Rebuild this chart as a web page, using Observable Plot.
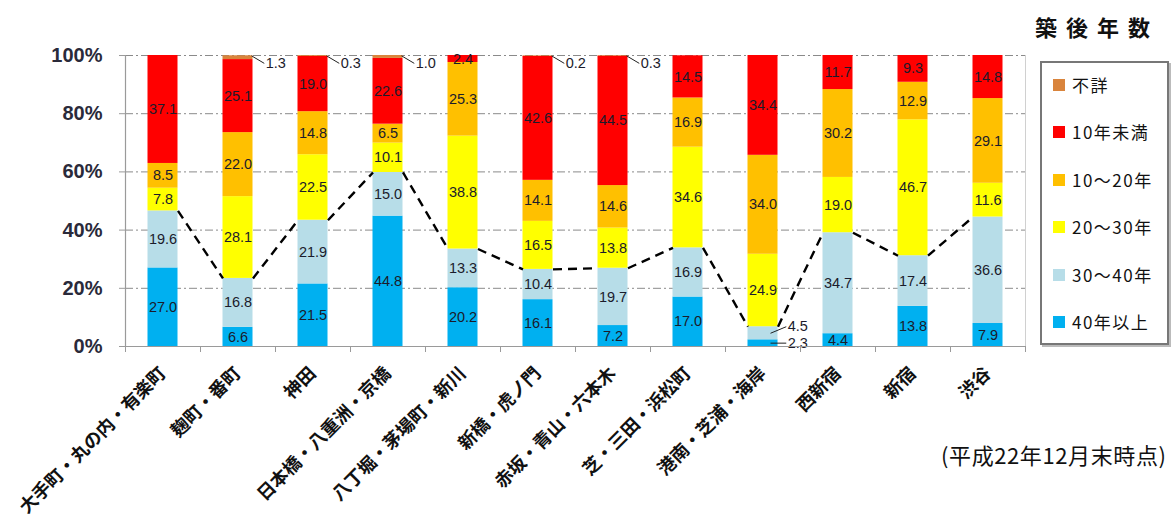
<!DOCTYPE html>
<html><head><meta charset="utf-8">
<script src="https://cdn.jsdelivr.net/npm/d3@7"></script>
<script src="https://cdn.jsdelivr.net/npm/@observablehq/plot@0.6"></script>
<style>
body{margin:0;background:#fff;font-family:"Noto Sans CJK JP",sans-serif;}
#wrap{position:relative;width:1173px;height:526px;overflow:hidden;}
#chart{position:absolute;left:0;top:0;}
#title{position:absolute;left:1035px;top:10px;font-size:22px;font-weight:bold;letter-spacing:9px;color:#111;}
#legend{position:absolute;left:1040px;top:61px;width:125px;height:280px;border:2px solid #777;box-shadow:2px 2px 0 #bbb;background:#fff;}
.item{position:absolute;left:11px;display:flex;align-items:center;font-size:17px;letter-spacing:1.5px;color:#111;line-height:20px;}
.sw{width:12px;height:12px;margin-right:7px;flex:none;}
#caption{position:absolute;left:941px;top:438px;font-size:22px;letter-spacing:0.6px;color:#111;}
</style>
</head><body>
<div id="wrap">
<div id="chart"></div>
<div id="title">築後年数</div>
<div id="legend"></div>
<div id="caption">(平成22年12月末時点)</div>
</div>
<script>
const names = ["大手町・丸の内・有楽町","麹町・番町","神田","日本橋・八重洲・京橋","八丁堀・茅場町・新川","新橋・虎ノ門","赤坂・青山・六本木","芝・三田・浜松町","港南・芝浦・海岸","西新宿","新宿","渋谷"];
const over40  = [27.0, 6.6,21.5,44.8,20.2,16.1, 7.2,17.0, 2.3, 4.4,13.8, 7.9];
const y30to40 = [19.6,16.8,21.9,15.0,13.3,10.4,19.7,16.9, 4.5,34.7,17.4,36.6];
const y20to30 = [ 7.8,28.1,22.5,10.1,38.8,16.5,13.8,34.6,24.9,19.0,46.7,11.6];
const y10to20 = [ 8.5,22.0,14.8, 6.5,25.3,14.1,14.6,16.9,34.0,30.2,12.9,29.1];
const under10 = [37.1,25.1,19.0,22.6, 2.4,42.6,44.5,14.5,34.4,11.7, 9.3,14.8];
const unknown = [ 0.0, 1.3, 0.3, 1.0, 0.0, 0.2, 0.3, 0.0, 0.0, 0.0, 0.0, 0.0];
const legendOrder = ["不詳","10年未満","10～20年","20～30年","30～40年","40年以上"];
const colors = ["#D9843C","#FF0000","#FFC000","#FFFF00","#B7DDE8","#00B0F0"];
const yTicks = [0,20,40,60,80,100];

const values = {"40年以上":over40,"30～40年":y30to40,"20～30年":y20to30,"10～20年":y10to20,"10年未満":under10,"不詳":unknown};
const stackOrder = legendOrder.slice().reverse();
const W = 0.4;
const rows = [];
names.forEach((name,i)=>{
  let acc = 0;
  stackOrder.forEach((s,k)=>{ const v = values[s][i]; rows.push({i,k,name,s,v,y1:acc,y2:acc+v,mid:acc+v/2}); acc += v; });
});
// a small segment is labelled outside when its neighbouring segment is also small (crowded)
function crowded(r){
  if (r.s==="不詳") return true;
  if (r.v>=5) return false;
  const nb = rows.filter(o=>o.i===r.i && Math.abs(o.k-r.k)===1 && o.s!=="不詳" && o.v>0);
  return nb.some(o=>o.v<5);
}
const inside = rows.filter(r => r.v>0 && !crowded(r));
const outside = rows.filter(r => r.v>0 && crowded(r)).map(r => {
  if (r.s==="不詳") return {...r, ax:r.i+W/2-0.02, ay:99.9, lx:r.i+W/2+0.17, ly:97.3};
  return {...r, ax:r.i+0.1, ay:r.mid, lx:r.i+W/2+0.13, ly:(r.s==="30～40年"? r.y2 : r.mid)};
});
const cum = names.map((n,i)=> over40[i]+y30to40[i]);
const segs = d3.range(names.length-1).map(i=>({x1:i+W/2, x2:i+1-W/2, y1:cum[i], y2:cum[i+1]}));

const plot = Plot.plot({
  width:1173, height:526,
  marginLeft:125, marginRight:148, marginTop:55, marginBottom:180,
  style:{background:"transparent", fontFamily:"Liberation Sans, Arial, sans-serif"},
  x:{domain:[-0.5, names.length-0.5], axis:null},
  y:{domain:[0,100], axis:null},
  color:{domain:legendOrder, range:colors},
  marks:[
    Plot.ruleY(yTicks.filter(d=>d>0), {stroke:"#8a8a8a", strokeWidth:1, strokeDasharray:"8,3,2,3"}),
    Plot.ruleX([names.length-0.5], {stroke:"#d0d0d0"}),
    Plot.rect(rows.filter(r=>r.v>0), {x1:r=>r.i-W/2, x2:r=>r.i+W/2, y1:"y1", y2:r=>Math.min(100,r.y2), fill:"s"}),
    Plot.link(segs, {x1:"x1", x2:"x2", y1:"y1", y2:"y2", stroke:"#000", strokeWidth:2.4, strokeDasharray:"9,6"}),
    Plot.text(inside, {x:"i", y:"mid", text:r=>r.v.toFixed(1), fill:"#1b1b2b", fontSize:14.5}),
    Plot.link(outside, {x1:"ax", y1:"ay", x2:r=>r.lx-0.02, y2:"ly", stroke:"#222", strokeWidth:1}),
    Plot.text(outside, {x:"lx", y:"ly", text:r=>r.v.toFixed(1), textAnchor:"start", fill:"#1b1b2b", fontSize:14.5}),
    Plot.ruleX([-0.5], {stroke:"#9a9a9a", strokeWidth:1.2}),
    Plot.ruleY([0], {stroke:"#9a9a9a", strokeWidth:1.2}),
    Plot.axisY({ticks:yTicks, tickSize:6, tickFormat:()=>"", stroke:"#9a9a9a"}),
    Plot.axisY({ticks:yTicks, tickSize:0, tickPadding:23, tickFormat:d=>d+"%", fontSize:20, fontWeight:"bold", fill:"#2a2a3a"}),
    Plot.axisX({ticks:d3.range(names.length+1).map(k=>k-0.5), tickSize:6, tickFormat:()=>"", stroke:"#9a9a9a"}),
    Plot.axisX({ticks:d3.range(names.length), tickSize:0, tickPadding:24, tickRotate:-45, textAnchor:"end", lineAnchor:"middle",
      tickFormat:i=>names[i], fontSize:18, fontWeight:"bold", fill:"#111", fontFamily:"Noto Sans CJK JP"})
  ]
});
document.getElementById("chart").appendChild(plot);

const lg = document.getElementById("legend");
legendOrder.forEach((s,k)=>{
  const it = document.createElement("div");
  it.className = "item";
  it.style.top = (12 + k*47.4) + "px";
  it.innerHTML = `<span class="sw" style="background:${colors[k]}"></span><span>${s}</span>`;
  lg.appendChild(it);
});
</script>
</body></html>
